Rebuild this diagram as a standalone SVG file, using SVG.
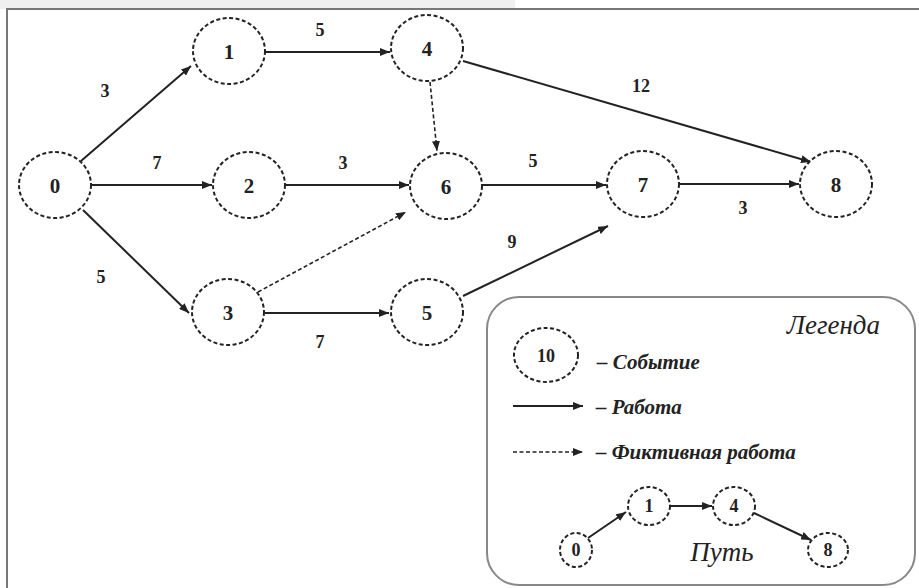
<svg xmlns="http://www.w3.org/2000/svg" width="919" height="588" viewBox="0 0 919 588">
<defs>
<marker id="ah" viewBox="0 0 10 8" refX="10" refY="4" markerWidth="10" markerHeight="8" markerUnits="userSpaceOnUse" orient="auto">
<path d="M0,0 L10,4 L0,8 Z" fill="#222"/>
</marker>
</defs>
<style>
text{font-family:'Liberation Serif','Times New Roman','DejaVu Serif',serif;fill:#222}
.node{fill:#fff;stroke:#222;stroke-width:2;stroke-dasharray:4 2.5}
.lbl{font-weight:bold;font-size:21px;text-anchor:middle}
.num{font-weight:bold;font-size:18px;text-anchor:middle}
.e{stroke:#222;stroke-width:2;fill:none;marker-end:url(#ah)}
.d{stroke:#222;stroke-width:1.6;fill:none;stroke-dasharray:4 2.5;marker-end:url(#ah)}
.it{font-style:italic;font-weight:bold;font-size:21px}
.big{font-style:italic;font-size:27px}
</style>
<rect x="0" y="0" width="919" height="588" fill="#fff"/>
<rect x="0" y="0" width="515" height="9" fill="#f0f0f0"/>
<path d="M7,588 V9 H919" fill="none" stroke="#777" stroke-width="2"/>

<g id="connectors">
<line class="e" x1="81" y1="161" x2="191" y2="66"/>
<line class="e" x1="265" y1="52" x2="390" y2="52"/>
<line class="e" x1="463" y1="61" x2="811" y2="162"/>
<line class="d" x1="430" y1="82" x2="437" y2="151"/>
<line class="e" x1="91" y1="185" x2="212" y2="185"/>
<line class="e" x1="285" y1="185" x2="409" y2="185"/>
<line class="e" x1="482" y1="185" x2="606" y2="185"/>
<line class="e" x1="679" y1="184" x2="799" y2="184"/>
<line class="e" x1="83" y1="210" x2="189" y2="313"/>
<line class="d" x1="258" y1="292" x2="406" y2="212"/>
<line class="e" x1="265" y1="313" x2="389" y2="313"/>
<line class="e" x1="463" y1="296" x2="608" y2="226"/>
<text class="num" x="105" y="97">3</text>
<text class="num" x="320" y="36">5</text>
<text class="num" x="641" y="92">12</text>
<text class="num" x="157" y="169">7</text>
<text class="num" x="343" y="169">3</text>
<text class="num" x="533" y="167">5</text>
<text class="num" x="743" y="214">3</text>
<text class="num" x="101" y="283">5</text>
<text class="num" x="320" y="348">7</text>
<text class="num" x="512" y="248">9</text>
</g>

<g id="n0"><ellipse class="node" cx="55" cy="185" rx="36" ry="33"/><text class="lbl" x="55" y="193">0</text></g>
<g id="n1"><ellipse class="node" cx="229" cy="51" rx="36" ry="33"/><text class="lbl" x="229" y="59">1</text></g>
<g id="n4"><ellipse class="node" cx="427" cy="48" rx="36" ry="33"/><text class="lbl" x="427" y="56">4</text></g>
<g id="n2"><ellipse class="node" cx="249" cy="185" rx="36" ry="33"/><text class="lbl" x="249" y="193">2</text></g>
<g id="n6"><ellipse class="node" cx="446" cy="186" rx="36" ry="33"/><text class="lbl" x="446" y="194">6</text></g>
<g id="n7"><ellipse class="node" cx="643" cy="184" rx="36" ry="33"/><text class="lbl" x="643" y="192">7</text></g>
<g id="n8"><ellipse class="node" cx="836" cy="184" rx="36" ry="33"/><text class="lbl" x="836" y="192">8</text></g>
<g id="n3"><ellipse class="node" cx="228" cy="312" rx="36" ry="33"/><text class="lbl" x="228" y="320">3</text></g>
<g id="n5"><ellipse class="node" cx="427" cy="312" rx="36" ry="33"/><text class="lbl" x="427" y="320">5</text></g>

<g id="legend">
<rect x="487" y="297" width="428" height="288" rx="32" ry="32" fill="#fff" stroke="#888" stroke-width="2"/>
<text class="big" x="880" y="334" text-anchor="end">Легенда</text>
<ellipse class="node" cx="546" cy="355" rx="32" ry="27"/>
<text class="num" x="546" y="362" font-size="19">10</text>
<text class="it" x="597" y="369">– Событие</text>
<line class="e" x1="513" y1="406" x2="583" y2="406"/>
<text class="it" x="596" y="414">– Работа</text>
<line class="d" x1="513" y1="452" x2="583" y2="452"/>
<text class="it" x="596" y="459">– Фиктивная работа</text>
<g id="p0"><ellipse class="node" cx="576" cy="550" rx="16" ry="17"/><text class="num" x="576" y="556" font-size="17">0</text></g>
<g id="p1"><ellipse class="node" cx="649" cy="506" rx="21" ry="19"/><text class="num" x="649" y="512" font-size="17">1</text></g>
<g id="p4"><ellipse class="node" cx="734" cy="506" rx="21" ry="19"/><text class="num" x="734" y="512" font-size="17">4</text></g>
<g id="p8"><ellipse class="node" cx="828" cy="550" rx="20" ry="17"/><text class="num" x="828" y="556" font-size="17">8</text></g>
<line class="e" x1="588" y1="538" x2="626" y2="512"/>
<line class="e" x1="670" y1="506" x2="712" y2="506"/>
<line class="e" x1="754" y1="513" x2="811" y2="540"/>
<text class="big" x="722" y="561" text-anchor="middle">Путь</text>
</g>
</svg>
